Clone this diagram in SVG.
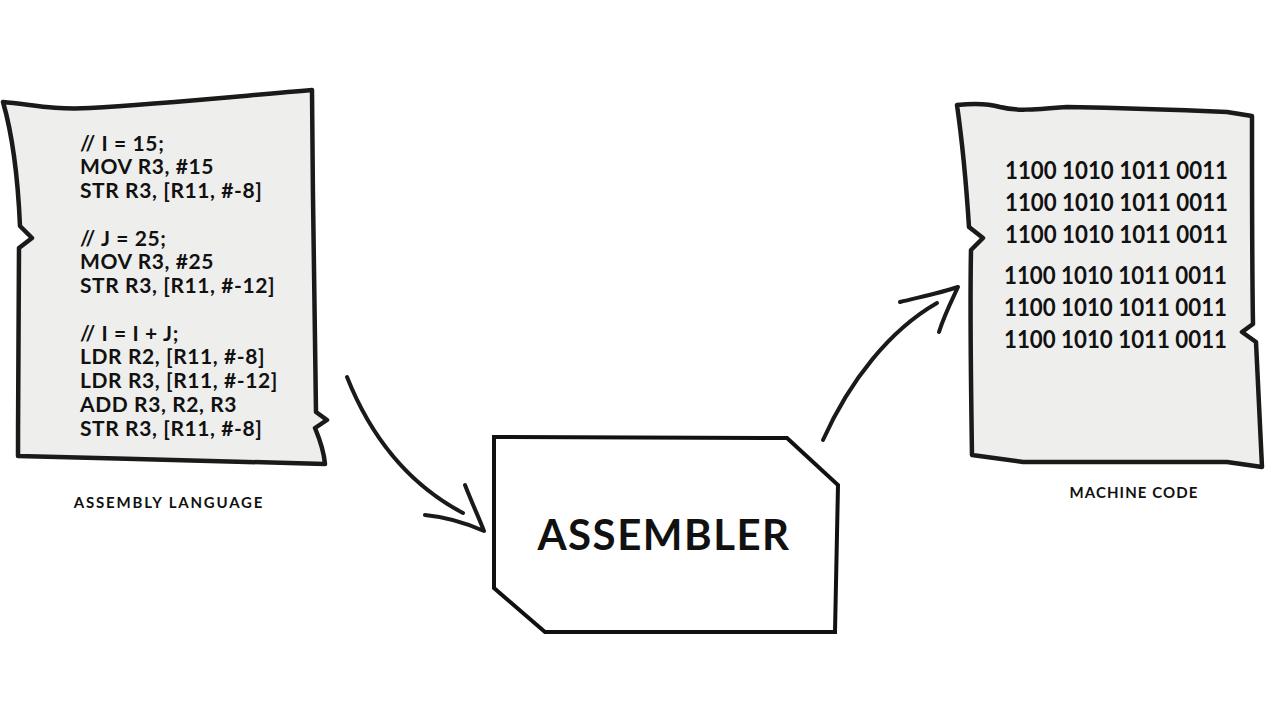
<svg xmlns="http://www.w3.org/2000/svg" width="1280" height="720" viewBox="0 0 1280 720">
<style>
.paper{fill:#eeeeec;stroke:#1a1a1a;stroke-width:4.5;stroke-linejoin:round;stroke-linecap:round}
.box{fill:#ffffff;stroke:#111;stroke-width:4;stroke-linejoin:miter}
.code{font-family:Lato,"Liberation Sans",sans-serif;font-weight:700;font-size:21px;fill:#111;letter-spacing:0.6px}
.bin{font-family:Lato,"Liberation Sans",sans-serif;font-weight:700;font-size:24px;fill:#111}
.lbl{font-family:Lato,"Liberation Sans",sans-serif;font-weight:700;font-size:15px;fill:#111}
.big{font-family:Lato,"Liberation Sans",sans-serif;font-weight:700;font-size:42px;fill:#111;letter-spacing:1.5px}
.arr{fill:none;stroke:#1a1a1a;stroke-width:4;stroke-linecap:round;stroke-linejoin:round}
</style>
<rect width="1280" height="720" fill="#ffffff"/>
<g id="assembly-paper">
<path class="paper" d="M3,102 C30,104 50,110 90,108 C160,104 240,96 312,90 C313,200 314,330 316,412 L327,420 L315,428 C320,440 324,452 325,464 C230,462 120,458 18,456 C18,380 19,300 19,248 L32,238 L20,226 C18,180 14,140 3,102 Z"/>
<text class="code" x="80" y="151">// I = 15;</text>
<text class="code" x="80" y="174">MOV R3, #15</text>
<text class="code" x="80" y="198">STR R3, [R11, #-8]</text>
<text class="code" x="80" y="246">// J = 25;</text>
<text class="code" x="80" y="269">MOV R3, #25</text>
<text class="code" x="80" y="293">STR R3, [R11, #-12]</text>
<text class="code" x="80" y="341">// I = I + J;</text>
<text class="code" x="80" y="364">LDR R2, [R11, #-8]</text>
<text class="code" x="80" y="388">LDR R3, [R11, #-12]</text>
<text class="code" x="80" y="412">ADD R3, R2, R3</text>
<text class="code" x="80" y="436">STR R3, [R11, #-8]</text>
<text class="lbl" x="169" y="508" text-anchor="middle" style="letter-spacing:1.8px">ASSEMBLY LANGUAGE</text>
</g>
<g id="machine-paper">
<path class="paper" d="M957,105 C975,103 990,104 1000,107 C1015,111 1030,110 1067,107 C1120,108 1180,110 1227,112 L1252,116 C1252,190 1252,270 1253,324 L1242,332 L1256,342 C1258,380 1260,420 1262,467 L1227,462 C1160,462 1080,462 1023,462 L972,455 C971,390 970,300 971,250 L983,238 L969,227 C966,180 962,140 957,105 Z"/>
<text class="bin" x="1005" y="179" textLength="223" lengthAdjust="spacingAndGlyphs">1100 1010 1011 0011</text>
<text class="bin" x="1005" y="211" textLength="223" lengthAdjust="spacingAndGlyphs">1100 1010 1011 0011</text>
<text class="bin" x="1005" y="243" textLength="223" lengthAdjust="spacingAndGlyphs">1100 1010 1011 0011</text>
<text class="bin" x="1004" y="284" textLength="223" lengthAdjust="spacingAndGlyphs">1100 1010 1011 0011</text>
<text class="bin" x="1004" y="316" textLength="223" lengthAdjust="spacingAndGlyphs">1100 1010 1011 0011</text>
<text class="bin" x="1004" y="348" textLength="223" lengthAdjust="spacingAndGlyphs">1100 1010 1011 0011</text>
<text class="lbl" x="1134" y="498" text-anchor="middle" style="letter-spacing:1.1px">MACHINE CODE</text>
</g>
<g id="assembler">
<path class="box" d="M494,437 L787,438 L838,485 L835,632 L545,632 L494,588 Z"/>
<text class="big" x="664" y="550" text-anchor="middle">ASSEMBLER</text>
</g>
<g id="connectors">
<path class="arr" d="M347,377 C372,440 410,485 463,513"/>
<path class="arr" d="M465,485 C472,503 479,518 484,531 C466,523 446,517 425,515"/>
<path class="arr" d="M823,440 C850,380 890,330 937,303"/>
<path class="arr" d="M900,302 C920,297 940,293 958,287 C951,302 944,316 939,332"/>
</g>
</svg>
